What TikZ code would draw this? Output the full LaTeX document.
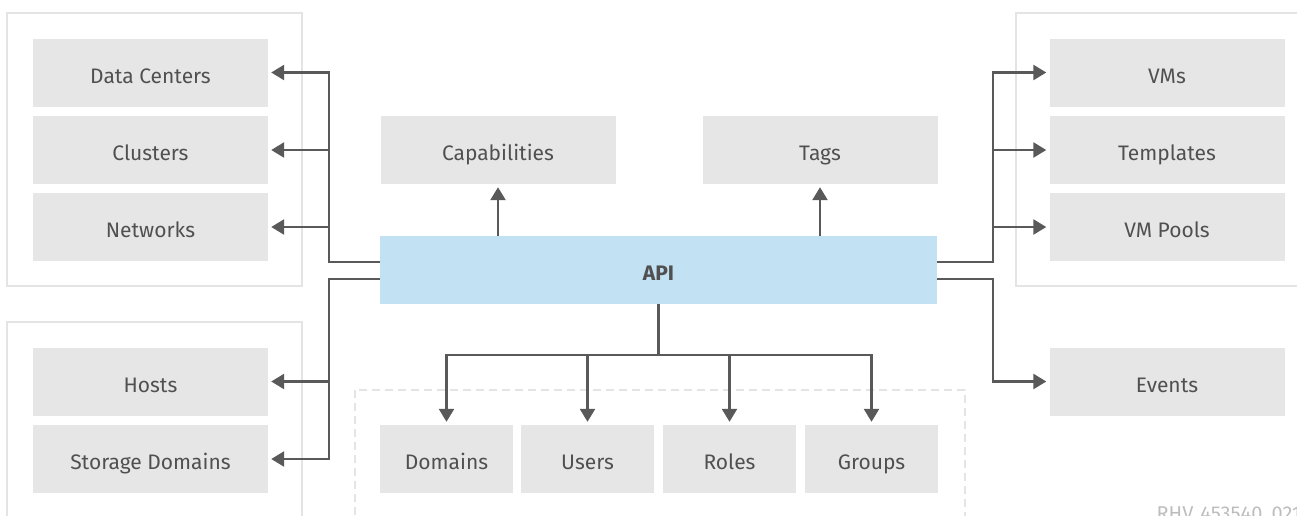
\documentclass[tikz,border=0pt]{standalone}
\usepackage{fontspec}
\setmainfont{Fira Sans}
\usetikzlibrary{arrows.meta,positioning,calc}
\definecolor{boxgray}{HTML}{E6E6E6}
\definecolor{apiblue}{HTML}{C2E1F3}
\definecolor{framegray}{HTML}{E4E4E4}
\definecolor{linegray}{HTML}{595959}
\definecolor{textgray}{HTML}{505050}
\definecolor{markgray}{HTML}{BDBDBD}
\tikzset{
  item/.style={fill=boxgray, minimum width=235pt, minimum height=68pt, inner sep=0pt,
    text height=21pt, text depth=0pt, text=textgray, font=\fontsize{21}{24}\selectfont},
  smallitem/.style={item, minimum width=133pt},
  apibox/.style={item, fill=apiblue, minimum width=557pt, font=\fontsize{21}{24}\selectfont\bfseries},
  frame/.style={draw=framegray, line width=2pt},
  link/.style={draw=linegray, line width=2.5pt, -{Triangle[length=13pt,width=15pt]}, shorten >=3pt},
}
\begin{document}
\begin{tikzpicture}[x=1pt,y=-1pt]
	\useasboundingbox (0,0) rectangle (1297,515);
	% group frames
	\draw[frame] (7,13) rectangle (302,286);
	\draw[frame] (7,322) rectangle (302,540);
	\draw[frame] (1016,13) rectangle (1320,286);
	\draw[frame, dash pattern=on 8pt off 5pt] (355,390) rectangle (965,540);
	% boxes
	\node[apibox] (api) at (658.5,270) {API};
	\node[item] (dc) at (150.5,72.5) {Data Centers};
	\node[item] (cl) at (150.5,150) {Clusters};
	\node[item] (nw) at (150.5,227) {Networks};
	\node[item] (ho) at (150.5,381.5) {Hosts};
	\node[item] (sd) at (150.5,459) {Storage Domains};
	\node[item] (cap) at (498,150) {Capabilities};
	\node[item] (tag) at (820,150) {Tags};
	\node[item] (vm) at (1167,72.5) {VMs};
	\node[item] (tp) at (1167,150) {Templates};
	\node[item] (vp) at (1167,227) {VM Pools};
	\node[item] (ev) at (1167,381.5) {Events};
	\node[smallitem] (dom) at (446.5,459) {Domains};
	\node[smallitem] (usr) at (587.5,459) {Users};
	\node[smallitem] (rol) at (729.5,459) {Roles};
	\node[smallitem] (grp) at (871.5,459) {Groups};
	\node[anchor=base west, text=markgray, font=\fontsize{20}{22}\selectfont] (mark) at (1153,520) {RHV\_453540\_0217};
	% buses
	\coordinate (lbus) at (329,0);
	\coordinate (rbus) at (993,0);
	\coordinate (dbus) at (0,355);
	% left
	\draw[link] ($(api.west)+(0,-8)$) -| (lbus |- dc) -- (dc.east);
	\draw[link] (lbus |- cl) -- (cl.east);
	\draw[link] (lbus |- nw) -- (nw.east);
	\draw[link] ($(api.west)+(0,9)$) -| (lbus |- sd) -- (sd.east);
	\draw[link] (lbus |- ho) -- (ho.east);
	% right
	\draw[link] ($(api.east)+(0,-8)$) -| (rbus |- vm) -- (vm.west);
	\draw[link] (rbus |- tp) -- (tp.west);
	\draw[link] (rbus |- vp) -- (vp.west);
	\draw[link] ($(api.east)+(0,9)$) -| (rbus |- ev) -- (ev.west);
	% up
	\draw[link] (api.north -| cap) -- (cap.south);
	\draw[link] (api.north -| tag) -- (tag.south);
	% down
	\draw[link] (api.south) |- (dbus -| dom) -- (dom.north);
	\draw[link] (api.south) |- (dbus -| grp) -- (grp.north);
	\draw[link] (dbus -| usr) -- (usr.north);
	\draw[link] (dbus -| rol) -- (rol.north);
\end{tikzpicture}
\end{document}
